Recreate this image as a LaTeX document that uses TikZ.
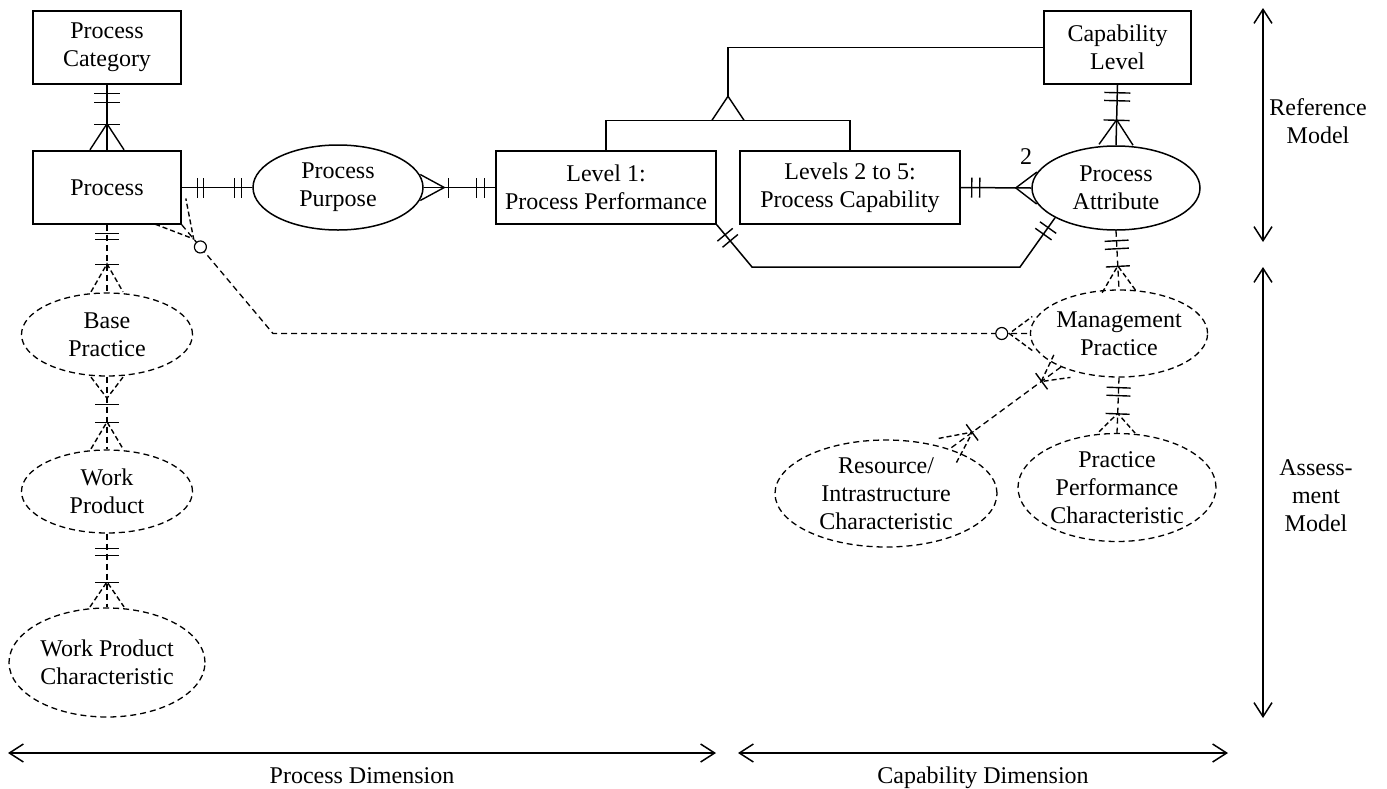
\documentclass[tikz,border=0pt]{standalone}
\usepackage{fontspec}
\setmainfont{Liberation Serif}
\usetikzlibrary{shapes.geometric,calc,decorations.markings,arrows.meta}

\tikzset{
  lbl/.style={font=\fontsize{24}{28}\selectfont, align=center, inner sep=0pt},
  box/.style={lbl, draw, line width=1.5pt, rectangle, minimum height=73pt},
  oval/.style={lbl, draw, line width=1.5pt, ellipse},
  doval/.style={oval, line width=1.3pt, dash pattern=on 6pt off 4pt},
  crowline/.style={solid},
  conn/.style={line width=1.5pt, crowline/.style={solid}},
  dconn/.style={line width=1.3pt, dash pattern=on 6pt off 4pt,
                crowline/.style={dash pattern=on 5pt off 3pt}},
  dimarrow/.style={line width=1.5pt,
    {Straight Barb[length=14pt,width=18pt]}-{Straight Barb[length=14pt,width=18pt]}},
  % single bar across a connector, measured from its start / end
  tS/.style 2 args={postaction={decorate,decoration={markings,
      mark=at position #1pt with {\draw[solid,line width=1.4pt] (0,-#2pt)--(0,#2pt);}}}},
  tE/.style 2 args={postaction={decorate,decoration={markings,
      mark=at position -#1pt with {\draw[solid,line width=1.4pt] (0,-#2pt)--(0,#2pt);}}}},
  % crow's foot: feet at (#1,+-#2), apex #3 away from the entity
  cS/.style n args={3}{postaction={decorate,decoration={markings,
      mark=at position 0.5pt with {\draw[crowline,line width=1.4pt] (#1pt,-#2pt)--(#3pt,0pt)--(#1pt,#2pt);}}}},
  cE/.style n args={3}{postaction={decorate,decoration={markings,
      mark=at position -0.5pt with {\draw[crowline,line width=1.4pt,xscale=-1] (#1pt,-#2pt)--(#3pt,0pt)--(#1pt,#2pt);}}}},
  % optional (zero) circle
  oS/.style 2 args={postaction={decorate,decoration={markings,
      mark=at position #1pt with {\draw[solid,line width=1.2pt,fill=white] (0,0) circle[radius=#2pt];}}}},
  oE/.style 2 args={postaction={decorate,decoration={markings,
      mark=at position -#1pt with {\draw[solid,line width=1.2pt,fill=white] (0,0) circle[radius=#2pt];}}}},
}

\begin{document}
\begin{tikzpicture}[x=1pt,y=1pt]
\useasboundingbox (0,0) rectangle (1387,-788);

% reference model entities
\node[box, minimum width=148pt] (pc)  at (107,-47.5)   {Process\\Category};
\node[box, minimum width=148pt] (proc) at (107,-187.5) {Process};
\node[box, minimum width=220pt] (l1)  at (606,-187.5)  {Level 1:\\Process Performance};
\node[box, minimum width=220pt] (l25) at (850,-187.5)  {Levels 2 to 5:\\Process Capability};
\node[box, minimum width=147pt] (cl)  at (1117.5,-47.5) {Capability\\Level};
\node[oval, minimum width=170pt, minimum height=85pt] (pp) at (338,-187.5) {Process\\Purpose};
\node[oval, minimum width=168pt, minimum height=84pt] (pa) at (1116,-188) {Process\\Attribute};

% assessment model entities
\node[doval, minimum width=171pt, minimum height=83pt]  (bp)  at (107,-334.5) {Base\\Practice};
\node[doval, minimum width=171pt, minimum height=83pt]  (wp)  at (107,-491.5) {Work\\Product};
\node[doval, minimum width=196pt, minimum height=109pt] (wpc) at (107,-662.5) {Work Product\\Characteristic};
\node[doval, minimum width=170pt, minimum height=87pt]  (mp)  at (1119,-333.5) {Management\\Practice};
\node[doval, minimum width=222pt, minimum height=107pt] (ric) at (886,-493.5) {Resource/\\Intrastructure\\Characteristic};
\node[doval, minimum width=198pt, minimum height=108pt] (ppc) at (1117,-487.5) {Practice\\Performance\\Characteristic};

% relationships
\draw[conn, tS={9}{13}, tS={18}{13}, cE={0}{17}{26}, tE={26}{13}] (pc.south) -- (proc.north);
\draw[conn, tS={16}{10}, tS={22}{10}, tE={11}{10}, tE={18}{10}] (proc.east) -- (pp.west);
\draw[conn, cS={-4}{13}{20}, tS={25}{10}, tE={11}{10}, tE={19}{10}] (pp.east) -- (l1.west);
\draw[conn, tS={11}{10}, tS={19}{10}, cE={-6}{16}{15}] (l25.east) -- (pa.west);
\node[lbl] (card) at (1026,-157) {2};
\draw[conn, tS={13}{10}, tS={21}{10}, tE={12}{10}, tE={20}{10}]
  (l1.south east) -- (752,-267) -- (1020,-267) -- (pa.206);
\draw[conn, tS={8}{13}, tS={16}{13}, cE={0}{17}{25}, tE={25}{13}] (cl.south) -- (pa.north);

% generalisation of the two level groups into capability level
\coordinate (gbar) at ($(l1.north)!0.5!(l25.north)+(0,30)$);
\coordinate (gapex) at ($(gbar)+(0,24)$);
\draw[conn] (l1.north) -- ++(0,30) -| (l25.north);
\draw[conn] ($(gbar)+(-16,0)$) -- (gapex) -- ($(gbar)+(16,0)$);
\draw[conn] (gapex) |- (cl.west);

% assessment relationships
\draw[dconn, tS={10}{12}, tS={18}{12}, cE={-3}{17}{23}, tE={23}{12}] (pa.south) -- (mp.north);
\draw[dconn, tS={10}{12}, tS={18}{12}, cE={0}{18}{19}, tE={19}{12}] (mp.south) -- (ppc.north);
\draw[dconn, cS={-2}{14}{24}, tS={24}{10}, cE={-3}{15}{28}, tE={28}{10}] (mp.210) -- (ric.35);
\draw[dconn, tS={9}{12}, tS={15}{12}, cE={0}{16}{28}, tE={28}{12}] (proc.south) -- (bp.north);
\draw[dconn, cS={0}{16}{21}, tS={28}{12}, cE={0}{16}{27}, tE={27}{12}] (bp.south) -- (wp.north);
\draw[dconn, tS={15}{12}, tS={22}{12}, cE={0}{17}{25}, tE={25}{12}] (wp.south) -- (wpc.north);
\draw[dconn, cS={-18}{20}{18}, oS={29}{6}, cE={-3}{17}{20}, oE={28}{6}]
  (proc.south east) -- (273,-333.5) -- (mp.west);

% model and dimension extents
\coordinate (rmT) at (1263,-8);
\coordinate (rmB) at (1263,-242);
\coordinate (amT) at (1263,-267);
\coordinate (amB) at (1263,-718);
\coordinate (pdL) at (8,-753);
\coordinate (pdR) at (716,-753);
\coordinate (cdL) at (738,-753);
\coordinate (cdR) at (1228,-753);
\draw[dimarrow] (rmT) -- (rmB);
\draw[dimarrow] (amT) -- (amB);
\draw[dimarrow] (pdL) -- (pdR);
\draw[dimarrow] (cdL) -- (cdR);
\node[lbl] (refmodel) at (1318,-121) {Reference\\Model};
\node[lbl] (assmodel) at (1316,-496) {Assess-\\ment\\Model};
\node[lbl, anchor=base] (pdim) at (362,-783) {Process Dimension};
\node[lbl, anchor=base] (cdim) at (983,-783) {Capability Dimension};
\end{tikzpicture}
\end{document}
